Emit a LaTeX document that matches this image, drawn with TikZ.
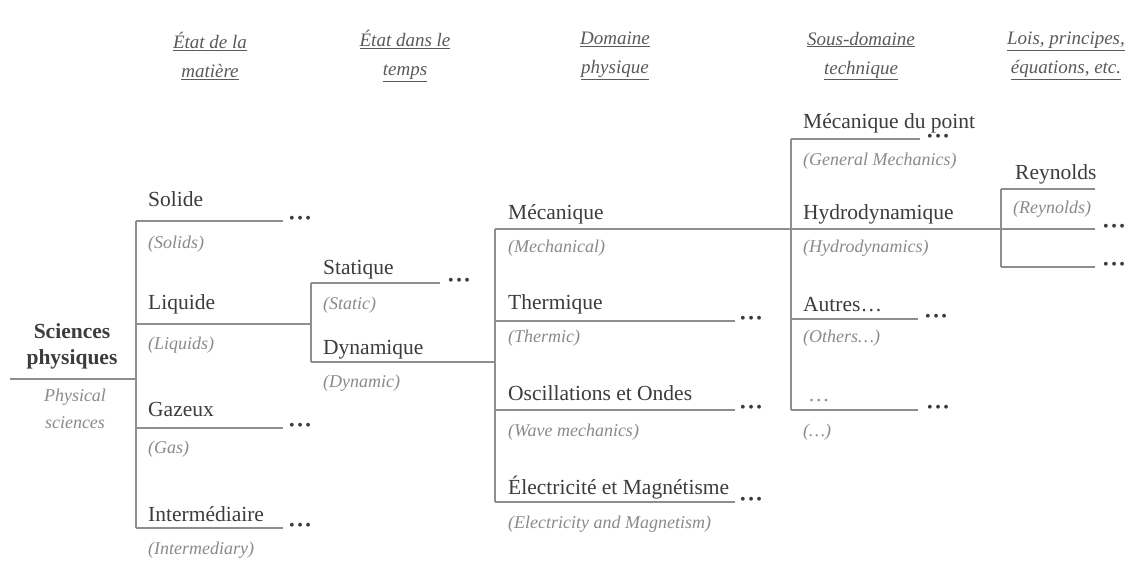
\documentclass[tikz,border=0pt]{standalone}
\usepackage{fontspec}
\setmainfont{Liberation Serif}
\definecolor{txtc}{HTML}{3C3C3C}
\definecolor{trnc}{HTML}{8A8A8A}
\definecolor{hdrc}{HTML}{5A5A5A}
\definecolor{linec}{HTML}{8E8E8E}
\definecolor{dotc}{HTML}{3A3A3A}
\tikzset{
  lab/.style={anchor=base west, inner sep=0pt, text=txtc, font=\fontsize{21.5}{24}\selectfont},
  trn/.style={anchor=base west, inner sep=0pt, text=trnc, font=\fontsize{18}{22}\selectfont\itshape},
  hdr/.style={inner sep=0pt, text=hdrc, font=\fontsize{19}{29}\selectfont\itshape, align=center},
  br/.style={draw=linec, line width=1.8pt},
  dotsn/.style={anchor=west, inner sep=0pt, text=dotc, font=\fontsize{16}{16}\selectfont},
}
\newcommand{\tdots}{•\kern2.5pt•\kern2.5pt•}
\begin{document}
\begin{tikzpicture}[x=1pt,y=-1pt]
\useasboundingbox[fill=white] (0,0) rectangle (1130,569);

% headers
\node[hdr] (h1) at (210,56) {\underline{État de la}\\\underline{matière}};
\node[hdr] (h2) at (405,56) {\underline{État dans le}\\\underline{temps}};
\node[hdr] (h3) at (615,56) {\underline{Domaine}\\\underline{physique}};
\node[hdr] (h4) at (861,56) {\underline{Sous-domaine}\\\underline{technique}};
\node[hdr] (h5) at (1066,56) {\underline{Lois, principes,}\\\underline{équations, etc.}};

% root
\node[inner sep=0pt, text=txtc, align=center, font=\fontsize{21.5}{26}\selectfont\bfseries] (root) at (72,346) {Sciences\\physiques};
\node[inner sep=0pt, text=trnc, align=center, font=\fontsize{18}{27}\selectfont\itshape] (roote) at (75,409) {Physical\\sciences};
\coordinate (r0) at (10,379);
\coordinate (j1) at (136,379);

% level 1
\coordinate (a1) at (136,221);
\coordinate (a2) at (136,324);
\coordinate (a3) at (136,428);
\coordinate (a4) at (136,528);
\node[lab] (sol) at (148,207) {Solide};
\node[trn] (sole) at (148,249) {(Solids)};
\node[lab] (liq) at (148,310) {Liquide};
\node[trn] (liqe) at (148,349) {(Liquids)};
\node[lab] (gaz) at (148,416) {Gazeux};
\node[trn] (gaze) at (148,453) {(Gas)};
\node[lab] (int) at (148,521) {Intermédiaire};
\node[trn] (inte) at (148,554) {(Intermediary)};
\node[dotsn] (dsol) at (289,220) {\tdots};
\node[dotsn] (dgaz) at (289,427) {\tdots};
\node[dotsn] (dint) at (289,527) {\tdots};

% level 2
\coordinate (b1) at (311,283);
\coordinate (b0) at (311,324);
\coordinate (b2) at (311,362);
\node[lab] (sta) at (323,275) {Statique};
\node[trn] (stae) at (323,310) {(Static)};
\node[lab] (dyn) at (323,355) {Dynamique};
\node[trn] (dyne) at (323,388) {(Dynamic)};
\node[dotsn] (dsta) at (448,282) {\tdots};

% level 3
\coordinate (c1) at (495,229);
\coordinate (c0) at (495,362);
\coordinate (c2) at (495,321);
\coordinate (c3) at (495,410);
\coordinate (c4) at (495,502);
\node[lab] (mec) at (508,220) {Mécanique};
\node[trn] (mece) at (508,253) {(Mechanical)};
\node[lab] (the) at (508,310) {Thermique};
\node[trn] (thee) at (508,343) {(Thermic)};
\node[lab] (osc) at (508,400) {Oscillations et Ondes};
\node[trn] (osce) at (508,436) {(Wave mechanics)};
\node[lab] (ele) at (508,494) {Électricité et Magnétisme};
\node[trn] (elee) at (508,528) {(Electricity and Magnetism)};
\node[dotsn] (dthe) at (740,320) {\tdots};
\node[dotsn] (dosc) at (740,409) {\tdots};
\node[dotsn] (dele) at (740,501) {\tdots};

% level 4
\coordinate (d1) at (791,139);
\coordinate (d2) at (791,229);
\coordinate (d3) at (791,319);
\coordinate (d4) at (791,410);
\node[lab] (mdp) at (803,129) {Mécanique du point};
\node[trn] (mdpe) at (803,166) {(General Mechanics)};
\node[lab] (hyd) at (803,220) {Hydrodynamique};
\node[trn] (hyde) at (803,253) {(Hydrodynamics)};
\node[lab] (aut) at (803,312) {Autres…};
\node[trn] (aute) at (803,343) {(Others…)};
\node[lab, text=trnc] (etc) at (808,401) {…};
\node[trn] (etce) at (803,436) {(…)};
\node[dotsn] (dmdp) at (927,138) {\tdots};
\node[dotsn] (daut) at (925,318) {\tdots};
\node[dotsn] (detc) at (927,409) {\tdots};

% level 5
\coordinate (e1) at (1001,189);
\coordinate (e2) at (1001,229);
\coordinate (e3) at (1001,267);
\coordinate (er) at (1095,189);
\node[lab] (rey) at (1015,180) {Reynolds};
\node[trn] (reye) at (1013,214) {(Reynolds)};
\node[dotsn] (dr2) at (1103,228) {\tdots};
\node[dotsn] (dr3) at (1103,266) {\tdots};

% connectors
\draw[br] (r0) -- (j1);
\draw[br] (a1) -- (a4);
\draw[br] (a1) -- ([xshift=-6pt]dsol.west |- a1);
\draw[br] (a2) -- (b0);
\draw[br] (a3) -- ([xshift=-6pt]dgaz.west |- a3);
\draw[br] (a4) -- ([xshift=-6pt]dint.west |- a4);

\draw[br] (b1) -- (b2);
\draw[br] (b1) -- ([xshift=-8pt]dsta.west |- b1);
\draw[br] (b2) -- (c0);

\draw[br] (c1) -- (c4);
\draw[br] (c1) -- (d2) -- (e2) -- ([xshift=-8pt]dr2.west |- e2);
\draw[br] (c2) -- ([xshift=-5pt]dthe.west |- c2);
\draw[br] (c3) -- ([xshift=-5pt]dosc.west |- c3);
\draw[br] (c4) -- ([xshift=-5pt]dele.west |- c4);

\draw[br] (d1) -- (d4);
\draw[br] (d1) -- ([xshift=-7pt]dmdp.west |- d1);
\draw[br] (d3) -- ([xshift=-7pt]daut.west |- d3);
\draw[br] (d4) -- ([xshift=-9pt]detc.west |- d4);

\draw[br] (e1) -- (e3);
\draw[br] (e1) -- (er);
\draw[br] (e3) -- ([xshift=-8pt]dr3.west |- e3);
\end{tikzpicture}
\end{document}
